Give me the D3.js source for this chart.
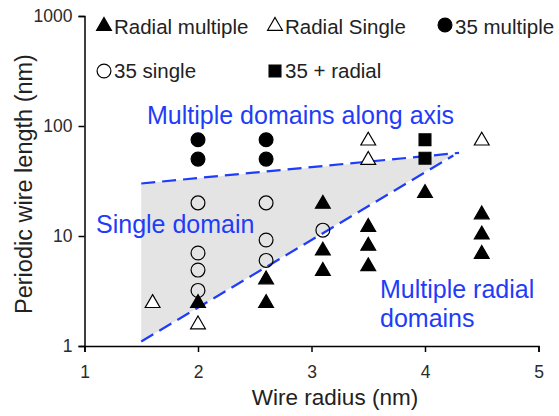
<!DOCTYPE html>
<html>
<head>
<meta charset="utf-8">
<script src="https://cdn.jsdelivr.net/npm/d3@7"></script>
<style>
  body { margin: 0; background: #fff; }
  svg { font-family: "Liberation Sans", Arial, sans-serif; }
</style>
</head>
<body>
<svg id="chart" width="559" height="416"></svg>
<script>
// points: [radius nm, period nm]
const radialMultiple = [[2, 2.5], [2.6, 4.1], [2.6, 2.5], [3.1, 20], [3.1, 7.5], [3.1, 4.9],
                        [3.5, 12.3], [3.5, 8.3], [3.5, 5.4], [4, 25], [4.5, 16], [4.5, 10.5], [4.5, 7]];
const radialSingle = [[1.6, 2.5], [2, 1.6], [3.5, 75], [3.5, 50], [4.5, 75]];
const multiple35 = [[2, 75], [2, 50], [2.6, 75], [2.6, 50]];
const single35 = [[2, 20], [2, 7], [2, 4.9], [2, 3.2], [2.6, 20], [2.6, 9.2], [2.6, 6], [3.1, 11.3]];
const radial35 = [[4, 75], [4, 51]];

// boundary lines of the single-domain region
const upperLine = [[1.5, 30], [4.3, 57]];
const lowerLine = [[1.5, 1.1], [4.25, 54]];
const region = [[1.5, 30], [4.25, 55], [1.5, 1.1]];

const xTicks = [1, 2, 3, 4, 5];
const yTicks = [1, 10, 100, 1000];

let svg = d3.select("#chart"),
    margin = {top: 16, right: 20, bottom: 70, left: 84.5},
    width = +svg.attr("width") - margin.left - margin.right,
    height = +svg.attr("height") - margin.top - margin.bottom;

let x = d3.scaleLinear().domain([1, 5]).range([0, 454]),
    y = d3.scaleLog().domain([1, 1000]).range([height, 0]);

let g = svg.append("g").attr("transform", "translate(" + margin.left + "," + margin.top + ")");
const blue = "#1f3cf8";

g.append("path")
    .datum(region)
    .attr("d", d3.line().x(d => x(d[0])).y(d => y(d[1])))
    .attr("fill", "#e4e4e4");

[upperLine, lowerLine].forEach(l => {
    g.append("path")
        .datum(l)
        .attr("d", d3.line().x(d => x(d[0])).y(d => y(d[1])))
        .attr("fill", "none")
        .attr("stroke", blue)
        .attr("stroke-width", 2.2)
        .attr("stroke-dasharray", "14,7");
});

let xAxis = g.append("g")
    .attr("transform", "translate(0," + height + ")")
    .call(d3.axisBottom(x).tickValues(xTicks).tickFormat(d3.format("d")).tickSizeOuter(0).tickSize(6).tickPadding(14));
let yAxis = g.append("g")
    .call(d3.axisLeft(y).tickValues(yTicks).tickFormat(d3.format("d")).tickSizeOuter(0).tickSize(6).tickPadding(6));
[xAxis, yAxis].forEach(a => {
    a.selectAll("text").attr("font-size", 17.5).attr("fill", "#2b2b2b").style("font-family", "Liberation Sans, Arial, sans-serif");
    a.selectAll("line, path").attr("stroke", "#000").attr("stroke-width", 1.5);
});

// marker shapes
const tri = d3.symbol().type(d3.symbolTriangle).size(95);
const sq = d3.symbol().type(d3.symbolSquare).size(140);
const circ = d3.symbol().type(d3.symbolCircle).size(150);

const series = [
    {data: radialMultiple, sym: tri, fill: "#000", dy: 1},
    {data: radialSingle, sym: tri, fill: "#fff", dy: 1},
    {data: multiple35, sym: circ, fill: "#000", dy: 0},
    {data: single35, sym: circ, fill: "none", dy: 0},
    {data: radial35, sym: sq, fill: "#000", dy: 0}
];

series.forEach(s => {
    g.selectAll(null)
        .data(s.data)
        .enter().append("path")
            .attr("d", s.sym)
            .attr("transform", d => "translate(" + x(d[0]) + "," + (y(d[1]) + s.dy) + ")")
            .attr("fill", s.fill)
            .attr("stroke", "#000")
            .attr("stroke-width", 1.2);
});

// legend
const legend = [
    {label: "Radial multiple", sym: tri, fill: "#000", x: 104, y: 26},
    {label: "Radial Single", sym: tri, fill: "#fff", x: 275, y: 26},
    {label: "35 multiple", sym: circ, fill: "#000", x: 445, y: 25},
    {label: "35 single", sym: circ, fill: "#fff", x: 104, y: 71},
    {label: "35 + radial", sym: sq, fill: "#000", x: 275, y: 71}
];
legend.forEach(l => {
    svg.append("path")
        .attr("d", l.sym)
        .attr("transform", "translate(" + l.x + "," + l.y + ")")
        .attr("fill", l.fill)
        .attr("stroke", "#000")
        .attr("stroke-width", 1.2);
    svg.append("text")
        .attr("x", l.x + 10)
        .attr("y", l.y < 50 ? 34 : 78)
        .attr("font-size", 20.5)
        .attr("fill", "#222")
        .text(l.label);
});

// region labels
const notes = [
    {text: "Multiple domains along axis", x: 147, y: 124},
    {text: "Single domain", x: 96, y: 233},
    {text: "Multiple radial", x: 380, y: 298},
    {text: "domains", x: 380, y: 327}
];
notes.forEach(n => {
    svg.append("text")
        .attr("x", n.x)
        .attr("y", n.y)
        .attr("font-size", 25)
        .attr("fill", blue)
        .text(n.text);
});

// axis titles
svg.append("text")
    .attr("x", 335)
    .attr("y", 405)
    .attr("text-anchor", "middle")
    .attr("font-size", 22.5)
    .attr("fill", "#222")
    .text("Wire radius (nm)");

svg.append("text")
    .attr("transform", "translate(32," + 184 + ") rotate(-90)")
    .attr("text-anchor", "middle")
    .attr("font-size", 23.5)
    .attr("fill", "#222")
    .text("Periodic wire length (nm)");
</script>
</body>
</html>
